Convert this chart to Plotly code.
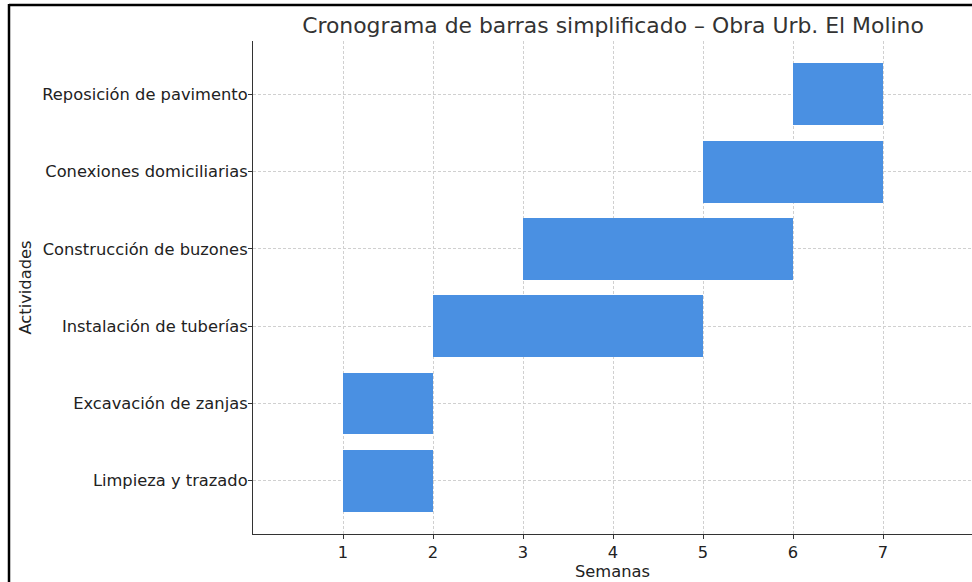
import plotly.graph_objects as go

activities = ["Limpieza y trazado", "Excavación de zanjas", "Instalación de tuberías",
              "Construcción de buzones", "Conexiones domiciliarias", "Reposición de pavimento"]
start_week = [1, 1, 2, 3, 5, 6]
duration_weeks = [1, 1, 3, 3, 2, 1]
x_ticks = [1, 2, 3, 4, 5, 6, 7]

W, H = 972, 582
L, R, T, B = 253, 0, 41, 48
pw, ph = W - L - R, H - T - B

fig = go.Figure(go.Bar(
    y=list(range(len(activities))), x=duration_weeks, base=start_week,
    orientation="h", width=0.8, marker=dict(color="#4a90e2", line=dict(width=0)),
    hoverinfo="skip",
))

def px_x(p):
    return (p - L) / pw

def px_y(p):
    return (H - B - p) / ph

fig.add_shape(type="line", xref="paper", yref="paper", x0=px_x(9), x1=px_x(975),
              y0=px_y(5), y1=px_y(5), line=dict(color="black", width=2.5))
fig.add_shape(type="line", xref="paper", yref="paper", x0=px_x(9), x1=px_x(9),
              y0=px_y(4), y1=px_y(590), line=dict(color="black", width=2.5))

grid_dash = "3px,2px"
fig.update_layout(
    width=W, height=H, margin=dict(l=L, r=R, t=T, b=B),
    paper_bgcolor="white", plot_bgcolor="white",
    font=dict(family="DejaVu Sans", size=16.3, color="#222"),
    title=dict(text="Cronograma de barras simplificado – Obra Urb. El Molino",
               x=613 / W, xanchor="center", y=1 - 25 / H, yanchor="middle",
               font=dict(size=21.9, color="#333")),
    showlegend=False, bargap=0,
    xaxis=dict(range=[0, pw / 90], tickvals=x_ticks, ticktext=[str(v) for v in x_ticks],
               showgrid=True, gridcolor="#d0d0d0", griddash=grid_dash, gridwidth=1,
               zeroline=False, showline=True, linecolor="#333", linewidth=1.2,
               ticks="outside", ticklen=4, tickcolor="#333", ticklabelstandoff=-1,
               title=dict(text="Semanas", standoff=1, font=dict(size=16.3))),
    yaxis=dict(range=[-0.69, 5.69], tickvals=list(range(len(activities))), ticktext=activities,
               showgrid=True, gridcolor="#d0d0d0", griddash=grid_dash, gridwidth=1,
               zeroline=False, showline=True, linecolor="#333", linewidth=1.2,
               ticks="outside", ticklen=4, tickcolor="#333", ticklabelstandoff=-3,
               title=dict(text="Actividades", standoff=6, font=dict(size=16.3))),
)

fig.write_html("out.html", config={"displayModeBar": False},
               post_script="document.body.style.margin='0';document.body.style.overflow='hidden';")
